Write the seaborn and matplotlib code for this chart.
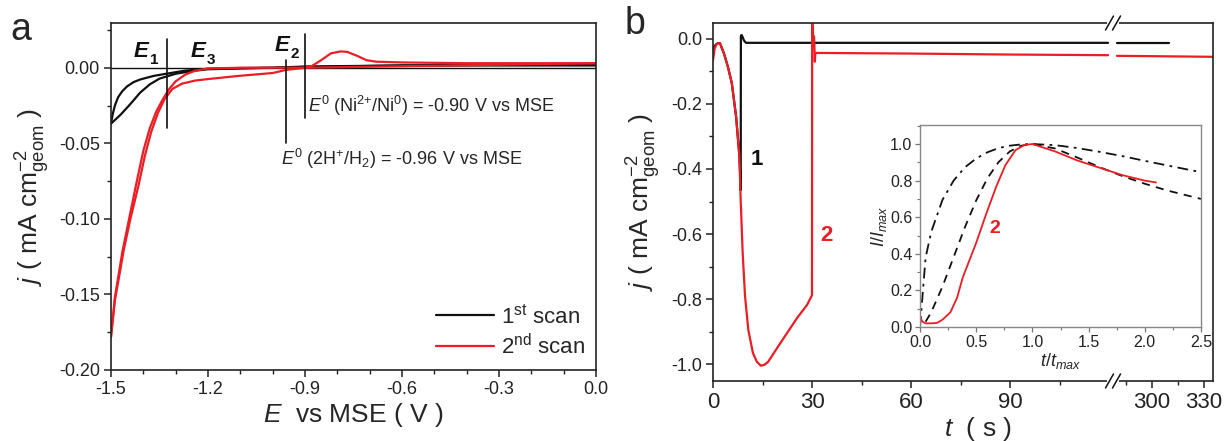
import numpy as np
import pandas as pd
import matplotlib
matplotlib.use("Agg")
import matplotlib.pyplot as plt
from matplotlib.ticker import MultipleLocator, FixedLocator
from matplotlib.lines import Line2D
import seaborn as sns

# ---------------- data: panel a (cyclic voltammograms) ----------------
cv1_lower_E = [0.0, -0.3, -0.6, -0.9, -1.0, -1.1, -1.2, -1.25, -1.3, -1.35, -1.38, -1.41, -1.44, -1.47, -1.49, -1.5]
cv1_lower_j = [0.0015, 0.0015, 0.0015, 0.0005, 0.0, -0.0005, -0.001, -0.0022, -0.004, -0.0072, -0.011, -0.0165, -0.024, -0.031, -0.035, -0.037]
cv1_upper_E = [-1.5, -1.495, -1.488, -1.478, -1.465, -1.45, -1.43, -1.41, -1.37, -1.33, -1.27, -1.2, -1.1, -1.0, -0.9, -0.6, -0.3, 0.0]
cv1_upper_j = [-0.037, -0.031, -0.025, -0.0195, -0.0155, -0.0123, -0.0095, -0.0078, -0.0055, -0.004, -0.0019, -0.0007, -0.0002, 0.0, 0.0008, 0.0015, 0.002, 0.002]

cv2_a_E = [-0.9, -1.0, -1.1, -1.2, -1.24, -1.27, -1.30, -1.32, -1.34, -1.36, -1.38, -1.40, -1.42, -1.444, -1.465, -1.488, -1.5]
cv2_a_j = [0.0, 0.0, 0.0, -0.0005, -0.002, -0.0045, -0.009, -0.014, -0.021, -0.029, -0.04, -0.055, -0.075, -0.10, -0.122, -0.152, -0.178]
cv2_b_E = [-1.5, -1.488, -1.46, -1.44, -1.415, -1.395, -1.375, -1.355, -1.335, -1.31, -1.28, -1.24, -1.2, -1.1, -1.0, -0.96, -0.9]
cv2_b_j = [-0.178, -0.154, -0.12, -0.10, -0.078, -0.058, -0.042, -0.030, -0.021, -0.014, -0.0105, -0.0085, -0.0075, -0.0053, -0.0035, -0.0015, 0.0]
cv2_anodic_E = [-0.9, -0.88, -0.85, -0.82, -0.79, -0.77, -0.74, -0.71, -0.68, -0.6, -0.4, -0.2, 0.0]
cv2_anodic_j = [0.0, 0.001, 0.005, 0.0095, 0.0108, 0.0105, 0.008, 0.005, 0.004, 0.0035, 0.003, 0.003, 0.003]
cv2_return_E = [0.0, -0.3, -0.6, -0.9]
cv2_return_j = [0.003, 0.002, 0.001, 0.0]

legend_labels = [r"1$^{\rm st}$ scan", r"2$^{\rm nd}$ scan"]

# ---------------- data: panel b (chronoamperometry) ----------------
ch1_t = [0.0, 0.5, 1.0, 1.5, 2.1, 3.3, 4.5, 5.7, 7.0, 8.0, 8.4, 8.45, 8.7, 9.0, 9.4, 10.0, 30.0, 60.0, 90.0, 119.7]
ch1_j = [-0.035, -0.022, -0.016, -0.013, -0.013, -0.044, -0.085, -0.136, -0.239, -0.36, -0.465, 0.01, 0.012, 0.005, -0.005, -0.012, -0.012, -0.012, -0.012, -0.012]
ch1_t2 = [279.8, 300.0, 310.0]
ch1_j2 = [-0.012, -0.012, -0.012]

ch2_t = [0.0, 0.5, 1.0, 1.5, 2.1, 3.3, 4.5, 5.7, 7.0, 8.0, 8.4, 9.0, 9.7, 10.7, 12.1, 13.3, 14.5, 15.6, 16.7, 19.4, 22.4,
         25.5, 28.5, 30.0, 30.05, 30.3, 30.6, 30.7, 30.85, 31.0, 31.3, 60.0, 90.0, 119.7]
ch2_j = [-0.065, -0.03, -0.018, -0.013, -0.013, -0.044, -0.085, -0.136, -0.239, -0.36, -0.5, -0.66, -0.79, -0.895, -0.966, -0.993, -1.005, -1.002,
         -0.993, -0.951, -0.905, -0.858, -0.818, -0.788, 0.06, 0.012, 0.008, -0.012, -0.07, -0.045, -0.043, -0.045, -0.048, -0.05]
ch2_t2 = [279.8, 300.0, 335.0]
ch2_j2 = [-0.052, -0.053, -0.055]

# ---------------- data: inset (normalised transients) ----------------
inset_x = [0.0, 0.05, 0.1, 0.2, 0.3, 0.4, 0.5, 0.6, 0.7, 0.8, 0.9, 1.0, 1.2, 1.4, 1.6, 1.8, 2.0, 2.2, 2.5]
inst_y = [0.0, 0.38, 0.52, 0.695, 0.801, 0.873, 0.921, 0.955, 0.978, 0.991, 0.998, 1.0, 0.994, 0.978, 0.957, 0.934, 0.908, 0.883, 0.846]
prog_y = [0.0, 0.029, 0.081, 0.221, 0.383, 0.546, 0.692, 0.813, 0.902, 0.96, 0.991, 1.0, 0.976, 0.926, 0.873, 0.825, 0.783, 0.746, 0.70]
exp_x = [0.0, 0.02, 0.05, 0.1, 0.15, 0.2, 0.27, 0.33, 0.38, 0.5, 0.59, 0.68, 0.76, 0.85, 0.93, 1.0, 1.2, 1.4, 1.6, 1.8, 2.0, 2.1]
exp_y = [0.06, 0.03, 0.02, 0.02, 0.022, 0.04, 0.08, 0.16, 0.27, 0.46, 0.62, 0.77, 0.885, 0.967, 0.995, 1.0, 0.96, 0.91, 0.87, 0.83, 0.80, 0.79]

# ---------------- style ----------------
sns.set_theme(style="ticks")
plt.rcParams["font.family"] = ["Liberation Sans", "DejaVu Sans"]
plt.rcParams["mathtext.fontset"] = "custom"
plt.rcParams["mathtext.rm"] = "Liberation Sans"
plt.rcParams["mathtext.it"] = "Liberation Sans:italic"
plt.rcParams["mathtext.bf"] = "Liberation Sans:bold"
plt.rcParams["axes.unicode_minus"] = False
plt.rcParams["axes.edgecolor"] = "#222222"
plt.rcParams["axes.linewidth"] = 1.2
plt.rcParams["xtick.color"] = "#222222"
plt.rcParams["ytick.color"] = "#222222"

RED = "#ee1c24"
BLACK = "#111111"
LW = 1.6

fig = plt.figure(figsize=(12.24, 4.41), dpi=100)
W, H = 1224, 441


def rect(l, r, t, b):
    return [l / W, 1 - b / H, (r - l) / W, (b - t) / H]


def line(ax, x, y, color, lw=LW, ls="-"):
    df = pd.DataFrame({"x": x, "y": y})
    sns.lineplot(data=df, x="x", y="y", ax=ax, sort=False, estimator=None,
                 color=color, lw=lw, linestyle=ls, legend=False)


def style_ticks(ax, size):
    ax.tick_params(which="major", direction="out", length=5, width=1.1, labelsize=size, pad=3)
    ax.tick_params(which="minor", direction="out", length=3, width=1.0)


# ================= panel a =================
axa = fig.add_axes(rect(111, 596, 23, 370))
axa.axhline(0, color=BLACK, lw=1.0, zorder=1)
line(axa, cv1_lower_E, cv1_lower_j, BLACK)
line(axa, cv1_upper_E, cv1_upper_j, BLACK)
line(axa, cv2_return_E, cv2_return_j, RED)
line(axa, cv2_a_E, cv2_a_j, RED)
line(axa, cv2_b_E, cv2_b_j, RED)
line(axa, cv2_anodic_E, cv2_anodic_j, RED)
axa.set_xlim(-1.5, 0.0)
axa.set_ylim(-0.20, 0.0296)
axa.set_xticks([-1.5, -1.2, -0.9, -0.6, -0.3, 0.0])
axa.set_xticklabels(["-1.5", "-1.2", "-0.9", "-0.6", "-0.3", "0.0"])
axa.xaxis.set_minor_locator(MultipleLocator(0.1))
axa.set_yticks([-0.20, -0.15, -0.10, -0.05, 0.0])
axa.set_yticklabels(["-0.20", "-0.15", "-0.10", "-0.05", "0.00"])
axa.yaxis.set_minor_locator(MultipleLocator(0.025))
style_ticks(axa, 13)
axa.set_xlabel(r"$E$  vs MSE ( V )", fontsize=19, labelpad=2)
axa.set_ylabel(r"$j$ ( mA cm$^{-2}_{\rm geom}$ )", fontsize=19)
axa.yaxis.set_label_coords(-0.122, 0.5)

# annotation lines
axa.plot([-1.327, -1.327], [0.019, -0.040], color=BLACK, lw=1.2)
axa.plot([-0.96, -0.96], [0.005, -0.050], color=BLACK, lw=1.2)
axa.plot([-0.90, -0.90], [0.022, -0.033], color=BLACK, lw=1.2)
for lbl, sub, ex, ey in [("E", "1", -1.43, 0.0105), ("E", "3", -1.255, 0.0105), ("E", "2", -0.995, 0.0145)]:
    axa.text(ex, ey, lbl, fontsize=16, fontweight="bold", style="italic", ha="left", va="center", color=BLACK)
    axa.annotate(sub, xy=(ex, ey), xytext=(11.5, -6), textcoords="offset points",
                 fontsize=11, fontweight="bold", ha="left", va="center", color=BLACK)
axa.text(-0.89, -0.0255, r"$E^0$ (Ni$^{2{+}}$/Ni$^0$) = -0.90 V vs MSE", fontsize=13, ha="left", va="center")
axa.text(-0.973, -0.0605, r"$E^0$ (2H$^{+}$/H$_2$) = -0.96 V vs MSE", fontsize=13, ha="left", va="center")

handles = [Line2D([], [], color=BLACK, lw=LW), Line2D([], [], color=RED, lw=LW)]
axa.legend(handles, legend_labels, loc="lower right", frameon=False, fontsize=16,
           handlelength=2.6, handletextpad=0.3, labelspacing=0.25, borderaxespad=0.1)

fig.text(10 / W, 1 - 30 / H, "a", fontsize=27, ha="left", va="center")

# ================= panel b =================
axb = fig.add_axes(rect(713, 1113, 23, 381))
axb2 = fig.add_axes(rect(1113, 1213, 23, 381), sharey=axb)
line(axb, ch1_t, ch1_j, BLACK)
line(axb, ch2_t, ch2_j, RED)
line(axb2, ch1_t2, ch1_j2, BLACK)
line(axb2, ch2_t2, ch2_j2, RED)
axb.set_xlim(0, 121.2)
axb2.set_xlim(277.5, 335.2)
axb.set_ylim(-1.052, 0.049)
axb.set_xticks([0, 30, 60, 90])
axb.set_xticklabels(["0", "30", "60", "90"])
axb.xaxis.set_minor_locator(FixedLocator([15, 45, 75, 105]))
axb.set_yticks([-1.0, -0.8, -0.6, -0.4, -0.2, 0.0])
axb.set_yticklabels(["-1.0", "-0.8", "-0.6", "-0.4", "-0.2", "0.0"])
axb.yaxis.set_minor_locator(MultipleLocator(0.1))
axb2.set_xticks([300, 330])
axb2.set_xticklabels(["300", "330"])
axb2.xaxis.set_minor_locator(FixedLocator([285, 315]))
style_ticks(axb, 13)
style_ticks(axb2, 13)
axb.tick_params(axis="x", which="major", labelsize=16)
axb2.tick_params(axis="x", which="major", labelsize=16)
axb2.tick_params(axis="y", which="both", left=False, labelleft=False)
axb.spines["right"].set_visible(False)
axb2.spines["left"].set_visible(False)
axb.set_ylabel(r"$j$ ( mA cm$^{-2}_{\rm geom}$ )", fontsize=19)
axb.yaxis.set_label_coords(-0.125, 0.5)
axb.set_xlabel("")
axb2.set_xlabel("")
axb2.set_ylabel("")
fig.text(978 / W, 1 - 429 / H, r"$t$  ( s )", fontsize=19, ha="center", va="center")

axb.text(11.5, -0.372, "1", fontsize=16, fontweight="bold", color=BLACK, ha="left", va="center")
axb.text(32.5, -0.603, "2", fontsize=16, fontweight="bold", color=RED, ha="left", va="center")

# axis break marks
bx = 1113 / W
for by_px in (23, 381):
    by = 1 - by_px / H
    fig.add_artist(Line2D([bx - 4 / W, bx + 4 / W], [by, by], color="white", lw=3, transform=fig.transFigure, zorder=10))
    for off in (-3.5, 3.5):
        fig.add_artist(Line2D([bx + (off - 4) / W, bx + (off + 4) / W], [by - 7 / H, by + 7 / H],
                              color=BLACK, lw=1.1, transform=fig.transFigure, zorder=11))

fig.text(625 / W, 1 - 24 / H, "b", fontsize=27, ha="left", va="center")

# ================= inset =================
axi = fig.add_axes(rect(920, 1201, 125, 327))
line(axi, inset_x, inst_y, BLACK, lw=1.3, ls=(0, (6, 3, 1.5, 3)))
line(axi, inset_x[1:], prog_y[1:], BLACK, lw=1.3, ls=(0, (4.5, 3.5)))
line(axi, exp_x, exp_y, RED, lw=1.3)
axi.set_xlim(0, 2.5)
axi.set_ylim(0, 1.104)
axi.set_xticks([0.0, 0.5, 1.0, 1.5, 2.0, 2.5])
axi.set_xticklabels(["0.0", "0.5", "1.0", "1.5", "2.0", "2.5"])
axi.xaxis.set_minor_locator(MultipleLocator(0.25))
axi.set_yticks([0.0, 0.2, 0.4, 0.6, 0.8, 1.0])
axi.set_yticklabels(["0.0", "0.2", "0.4", "0.6", "0.8", "1.0"])
axi.yaxis.set_minor_locator(MultipleLocator(0.1))
axi.tick_params(which="major", direction="out", length=3.5, width=0.9, labelsize=11.5, pad=2, color="#777777")
axi.tick_params(which="minor", direction="out", length=2, width=0.8, color="#777777")
for s in axi.spines.values():
    s.set_color("#888888")
    s.set_linewidth(1.0)
axi.set_xlabel(r"$t/t_{max}$", fontsize=13, labelpad=1)
axi.set_ylabel(r"$I/I_{max}$", fontsize=13, labelpad=1)
axi.text(0.62, 0.54, "2", fontsize=14, fontweight="bold", color=RED, ha="left", va="center")

fig.savefig("out.png", dpi=100)
